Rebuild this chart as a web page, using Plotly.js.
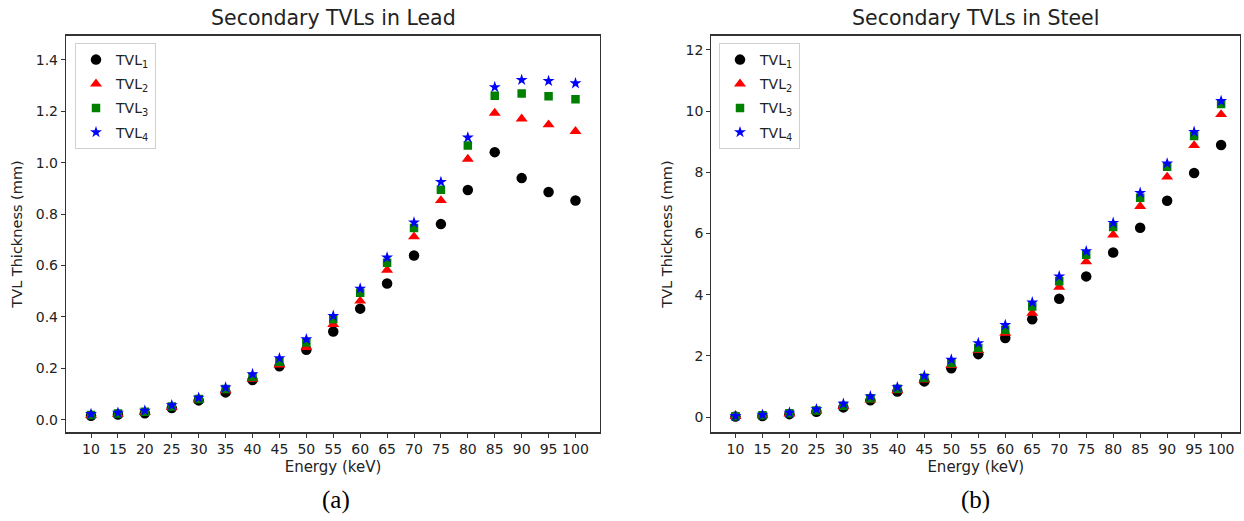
<!DOCTYPE html>
<html>
<head>
<meta charset="utf-8">
<script src="https://cdn.plot.ly/plotly-3.0.1.min.js"></script>
<style>
  html, body { margin: 0; padding: 0; background: #fff; }
  #chart { width: 1244px; height: 521px; }
</style>
</head>
<body>
<div id="chart"></div>
<script>
// ---- Data ----
const energies = [10, 15, 20, 25, 30, 35, 40, 45, 50, 55, 60, 65, 70, 75, 80, 85, 90, 95, 100];
const energyLabels = ["10","15","20","25","30","35","40","45","50","55","60","65","70","75","80","85","90","95","100"];

// Lead TVLs (mm)
const leadTVL1 = [0.015, 0.020, 0.025, 0.045, 0.075, 0.106, 0.154, 0.208, 0.272, 0.343, 0.432, 0.530, 0.639, 0.761, 0.894, 1.041, 0.940, 0.886, 0.853];
const leadTVL2 = [0.017, 0.022, 0.028, 0.048, 0.078, 0.113, 0.158, 0.213, 0.281, 0.371, 0.462, 0.582, 0.712, 0.853, 1.014, 1.193, 1.171, 1.148, 1.122];
const leadTVL3 = [0.018, 0.024, 0.031, 0.051, 0.080, 0.119, 0.167, 0.225, 0.300, 0.391, 0.494, 0.611, 0.746, 0.895, 1.067, 1.261, 1.269, 1.259, 1.247];
const leadTVL4 = [0.022, 0.027, 0.035, 0.056, 0.085, 0.125, 0.177, 0.239, 0.313, 0.404, 0.510, 0.631, 0.767, 0.925, 1.098, 1.294, 1.322, 1.318, 1.309];

// Steel TVLs (mm)
const steelTVL1 = [0.02, 0.04, 0.10, 0.18, 0.32, 0.55, 0.84, 1.17, 1.60, 2.06, 2.59, 3.20, 3.87, 4.60, 5.38, 6.19, 7.07, 7.98, 8.89];
const steelTVL2 = [0.025, 0.05, 0.11, 0.20, 0.35, 0.57, 0.87, 1.22, 1.69, 2.18, 2.75, 3.40, 4.25, 5.08, 5.96, 6.89, 7.85, 8.88, 9.89];
const steelTVL3 = [0.03, 0.065, 0.13, 0.22, 0.37, 0.62, 0.93, 1.29, 1.77, 2.26, 2.86, 3.62, 4.44, 5.31, 6.21, 7.17, 8.18, 9.19, 10.23];
const steelTVL4 = [0.04, 0.08, 0.15, 0.26, 0.44, 0.68, 0.98, 1.35, 1.88, 2.42, 3.01, 3.75, 4.60, 5.42, 6.35, 7.33, 8.29, 9.32, 10.33];

const seriesNames = ["TVL<sub>1</sub>", "TVL<sub>2</sub>", "TVL<sub>3</sub>", "TVL<sub>4</sub>"];
const seriesColors = ["#000000", "#ff0000", "#008000", "#0000ff"];
const seriesSymbols = ["circle", "triangle-up", "square", "star"];
const seriesSizes = [10.5, 10.5, 8.5, 9];

const leadSeries = [leadTVL1, leadTVL2, leadTVL3, leadTVL4];
const steelSeries = [steelTVL1, steelTVL2, steelTVL3, steelTVL4];

const traces = [];
leadSeries.forEach((ys, i) => {
  traces.push({
    x: energies, y: ys, type: 'scatter', mode: 'markers',
    name: seriesNames[i], xaxis: 'x', yaxis: 'y', legend: 'legend',
    legendgroup: 'a' + i,
    marker: { color: seriesColors[i], symbol: seriesSymbols[i], size: seriesSizes[i], line: { width: 0 } }
  });
});
steelSeries.forEach((ys, i) => {
  traces.push({
    x: energies, y: ys, type: 'scatter', mode: 'markers',
    name: seriesNames[i], xaxis: 'x2', yaxis: 'y2', legend: 'legend2',
    legendgroup: 'b' + i,
    marker: { color: seriesColors[i], symbol: seriesSymbols[i], size: seriesSizes[i], line: { width: 0 } }
  });
});

const baseFont = "DejaVu Sans, sans-serif";
const txtColor = "#222";
const axisLine = "#333";

function xAxis(domain, range, anchor) {
  return {
    domain: domain, range: range, anchor: anchor,
    tickmode: 'array', tickvals: energies, ticktext: energyLabels,
    ticks: 'outside', ticklen: 4, tickwidth: 1, tickcolor: axisLine,
    showline: true, mirror: true, linecolor: axisLine, linewidth: 1.2,
    showgrid: false, zeroline: false, automargin: false,
    tickfont: { family: baseFont, size: 14, color: txtColor },
    title: { text: "Energy (keV)", font: { family: baseFont, size: 15, color: txtColor }, standoff: 5 }
  };
}
function yAxis(domain, range, dtick, fmt, anchor) {
  return {
    domain: domain, range: range, anchor: anchor,
    dtick: dtick, tick0: 0, tickformat: fmt,
    ticks: 'outside', ticklen: 4, tickwidth: 1, tickcolor: axisLine,
    showline: true, mirror: true, linecolor: axisLine, linewidth: 1.2,
    showgrid: false, zeroline: false, automargin: false,
    tickfont: { family: baseFont, size: 14, color: txtColor },
    title: { text: "TVL Thickness (mm)", font: { family: baseFont, size: 14.5, color: txtColor }, standoff: 9 }
  };
}

const yDom = [0.16987, 0.93186];
function legendCfg(xpx) {
  return {
    x: xpx / 1244, y: (521 - 43) / 521, xanchor: 'left', yanchor: 'top',
    bgcolor: 'rgba(255,255,255,0.9)', bordercolor: '#d0d0d0', borderwidth: 1,
    font: { family: baseFont, size: 14, color: txtColor },
    traceorder: 'grouped', tracegroupgap: 3, itemclick: false
  };
}

const layout = {
  width: 1244, height: 521,
  margin: { l: 0, r: 0, t: 0, b: 0 },
  paper_bgcolor: '#fff', plot_bgcolor: '#fff',
  showlegend: true,
  xaxis: xAxis([0.05305, 0.4823], [5.35, 104.55], 'y'),
  yaxis: yAxis(yDom, [-0.05, 1.495], 0.2, '.1f', 'x'),
  xaxis2: xAxis([0.5719, 0.99678], [5.55, 103.5], 'y2'),
  yaxis2: yAxis(yDom, [-0.5, 12.47], 2, 'd', 'x2'),
  legend: legendCfg(75),
  legend2: legendCfg(719),
  annotations: [
    { text: "Secondary TVLs in Lead", xref: 'paper', yref: 'paper', x: 333 / 1244, y: (521 - 17.5) / 521,
      xanchor: 'center', yanchor: 'middle', showarrow: false, font: { family: baseFont, size: 20.5, color: txtColor } },
    { text: "Secondary TVLs in Steel", xref: 'paper', yref: 'paper', x: 975.5 / 1244, y: (521 - 17.5) / 521,
      xanchor: 'center', yanchor: 'middle', showarrow: false, font: { family: baseFont, size: 20.5, color: txtColor } },
    { text: "(a)", xref: 'paper', yref: 'paper', x: 335.5 / 1244, y: (521 - 500) / 521,
      xanchor: 'center', yanchor: 'middle', showarrow: false, font: { family: "Liberation Serif, Times New Roman, serif", size: 25, color: '#000' } },
    { text: "(b)", xref: 'paper', yref: 'paper', x: 975.5 / 1244, y: (521 - 500) / 521,
      xanchor: 'center', yanchor: 'middle', showarrow: false, font: { family: "Liberation Serif, Times New Roman, serif", size: 25, color: '#000' } }
  ]
};

Plotly.newPlot('chart', traces, layout, { displayModeBar: false, staticPlot: true });
</script>
</body>
</html>
